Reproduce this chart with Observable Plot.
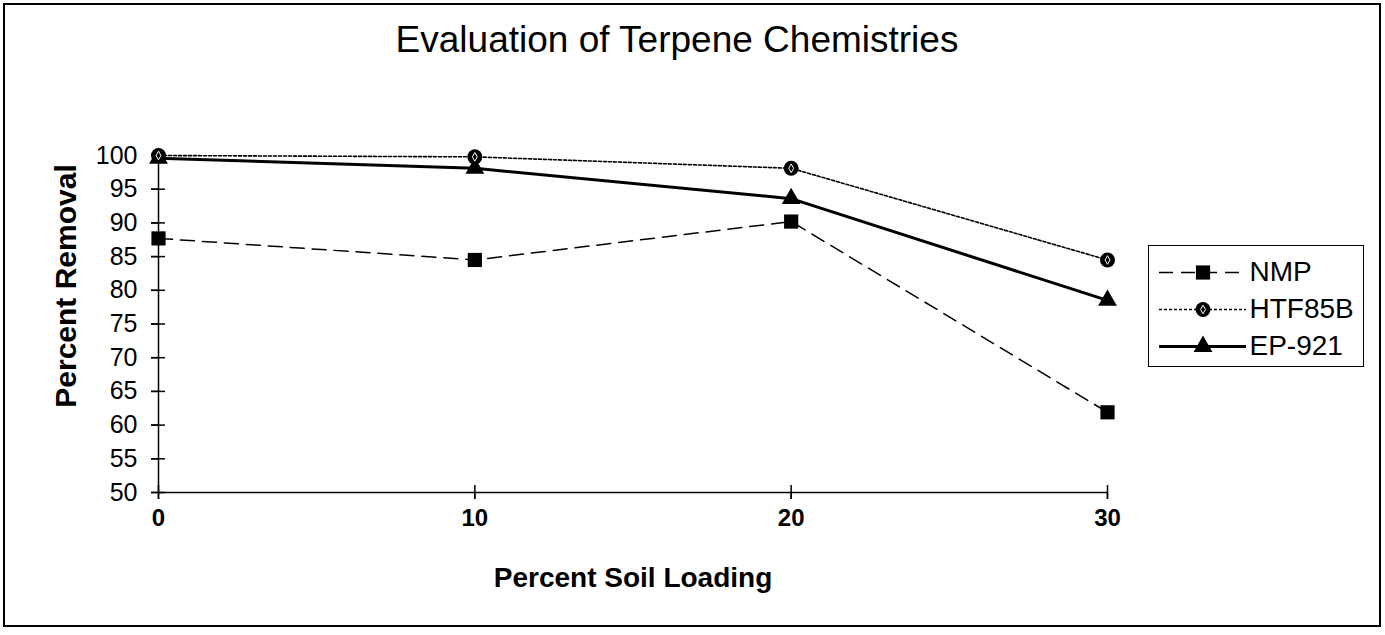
<!DOCTYPE html>
<html>
<head>
<meta charset="utf-8">
<script src="https://cdn.jsdelivr.net/npm/d3@7"></script>
<script src="https://cdn.jsdelivr.net/npm/@observablehq/plot@0.6"></script>
<style>
  html, body { margin: 0; padding: 0; background: #fff; }
  body { position: relative; width: 1385px; height: 635px; overflow: hidden; font-family: "Liberation Sans", Arial, sans-serif; }
  #frame { position: absolute; left: 3px; top: 3px; width: 1374px; height: 620px; border: 2px solid #000; }
  #title { position: absolute; left: 0; width: 1354px; top: 19px; text-align: center; font-size: 37px; color: #000; }
  #chart { position: absolute; left: 0; top: 0; }
  #legend { position: absolute; left: 1148px; top: 245px; }
  #legend svg { border: 1.5px solid #000; display: block; }
</style>
</head>
<body>
<div id="frame"></div>
<div id="title">Evaluation of Terpene Chemistries</div>
<div id="chart"></div>
<div id="legend"></div>
<script>
// ---- data ----
const loading = [0, 10, 20, 30];              // Percent Soil Loading
const seriesNames = ["NMP", "HTF85B", "EP-921"];
const nmp    = [87.7, 84.5, 90.2, 61.9];
const htf85b = [100.0, 99.8, 98.1, 84.5];
const ep921  = [99.6, 98.1, 93.6, 78.5];
const xTicks = [0, 10, 20, 30];
const yTicks = [50, 55, 60, 65, 70, 75, 80, 85, 90, 95, 100];

// ---- styles ----
const styles = {
  "NMP":    {dash: "14,8", width: 1.5, symbol: "square",   r: 8},
  "HTF85B": {dash: "3,2",  width: 1.6, symbol: "circle",   r: 7.5},
  "EP-921": {dash: null,   width: 3,   symbol: "triangle", r: 7}
};

const values = {"NMP": nmp, "HTF85B": htf85b, "EP-921": ep921};
const rows = seriesNames.flatMap(s => loading.map((x, i) => ({series: s, loading: x, removal: values[s][i]})));
const bySeries = s => rows.filter(d => d.series === s);

const font = '"Liberation Sans", Arial, sans-serif';

const chart = Plot.plot({
  width: 1385,
  height: 635,
  marginLeft: 158,
  marginRight: 278,
  marginTop: 155,
  marginBottom: 143,
  style: {fontFamily: font, color: "#000", background: "transparent", overflow: "visible"},
  x: {domain: [0, 30]},
  y: {domain: [50, 100]},
  marks: [
    // axis lines
    Plot.ruleX([0], {stroke: "#000", strokeWidth: 1.5}),
    Plot.ruleY([50], {stroke: "#000", strokeWidth: 1.5}),
    // y axis: labels + outer ticks, then crossing ticks
    Plot.axisY(yTicks, {anchor: "left", tickSize: 7, tickPadding: 14, fontSize: 25, label: null, strokeWidth: 1.5}),
    Plot.axisY(yTicks, {anchor: "left", tickSize: 14, dx: 7, fill: "none", label: null, strokeWidth: 1.5}),
    // x axis
    Plot.axisX(xTicks, {anchor: "bottom", tickSize: 7, tickPadding: 9, fontSize: 24, fontWeight: "bold", label: null, strokeWidth: 1.5}),
    Plot.axisX(xTicks, {anchor: "bottom", tickSize: 14, dy: -7, fill: "none", label: null, strokeWidth: 1.5}),
    // axis titles
    Plot.text(["Percent Removal"], {text: d => d, frameAnchor: "left", textAnchor: "middle", rotate: -90, dx: -92, dy: -38, fontSize: 30, fontWeight: "bold"}),
    Plot.text(["Percent Soil Loading"], {text: d => d, frameAnchor: "bottom", dy: 94, fontSize: 28, fontWeight: "bold"}),
    // series lines
    ...seriesNames.map(s => Plot.line(bySeries(s), {
      x: "loading", y: "removal", stroke: "#000",
      strokeWidth: styles[s].width, strokeDasharray: styles[s].dash
    })),
    // markers
    ...seriesNames.map(s => Plot.dot(bySeries(s), {
      x: "loading", y: "removal", symbol: styles[s].symbol, r: styles[s].r, fill: "#000", stroke: "none"
    })),
    Plot.dot(bySeries("HTF85B"), {x: "loading", y: "removal", symbol: "diamond", r: 2.6, fill: "none", stroke: "#fff", strokeWidth: 1})
  ]
});
document.getElementById("chart").append(chart);

// ---- legend ----
const legend = Plot.plot({
  width: 214,
  height: 120,
  marginLeft: 10,
  marginRight: 117,
  marginTop: 25,
  marginBottom: 20,
  style: {fontFamily: font, color: "#000", background: "#fff", overflow: "visible"},
  x: {domain: [0, 1], axis: null},
  y: {type: "point", domain: seriesNames, padding: 0, axis: null},
  marks: [
    ...seriesNames.map(s => Plot.ruleY([s], {
      y: d => d, x1: 0, x2: 1, stroke: "#000",
      strokeWidth: styles[s].width, strokeDasharray: styles[s].dash
    })),
    ...seriesNames.map(s => Plot.dot([s], {
      y: d => d, x: 0.5, symbol: styles[s].symbol, r: styles[s].r, fill: "#000", stroke: "none"
    })),
    Plot.dot(["HTF85B"], {y: d => d, x: 0.5, symbol: "diamond", r: 2.6, fill: "none", stroke: "#fff", strokeWidth: 1}),
    Plot.axisY(seriesNames, {anchor: "right", tickSize: 0, tickPadding: 3, textAnchor: "start", fontSize: 28, label: null})
  ]
});
document.getElementById("legend").append(legend);
</script>
</body>
</html>
